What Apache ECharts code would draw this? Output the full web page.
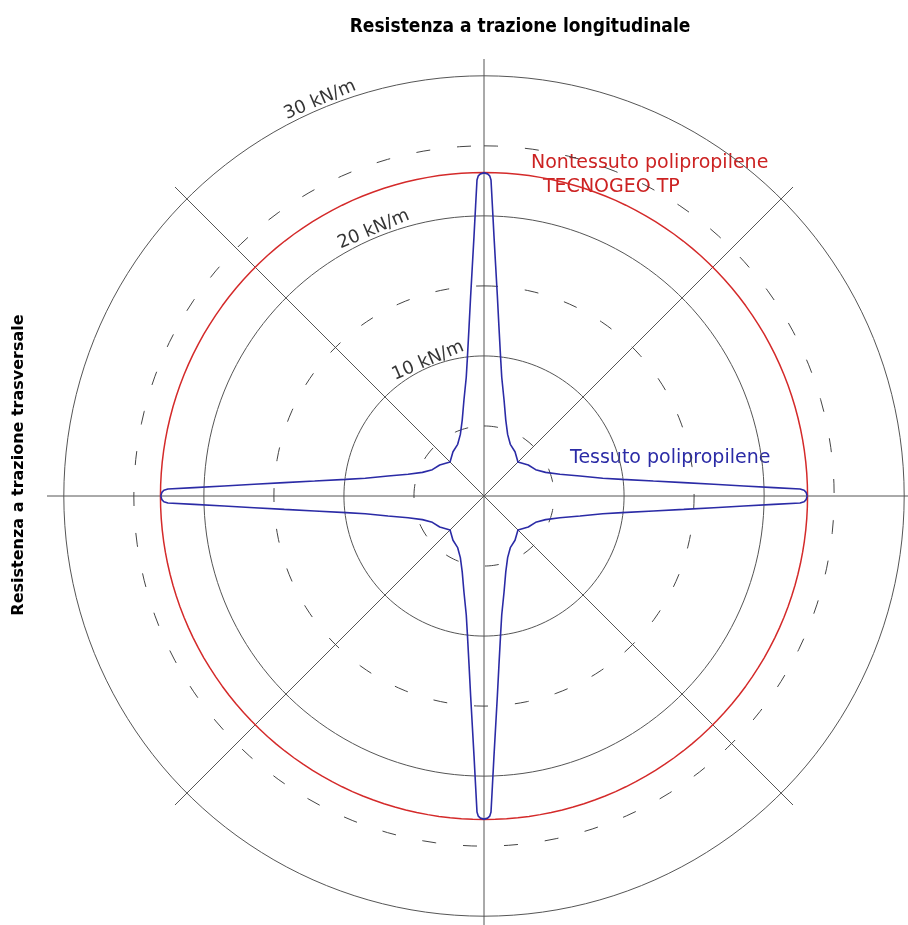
<!DOCTYPE html>
<html><head><meta charset="utf-8">
<script src="https://cdn.jsdelivr.net/npm/echarts@6/dist/echarts.min.js"></script>
<style>html,body{margin:0;padding:0;background:#fff}#chart{width:908px;height:925px}</style>
</head><body><div id="chart"></div>
<script>
// ---- data (kN/m) ----
const titleTop = 'Resistenza a trazione longitudinale';
const titleSide = 'Resistenza a trazione trasversale';
const armAngles = [0, 90, 180, 270]; // arm directions, degrees clockwise from top
// Tessuto polipropilene: half-arm profile, offset from arm axis (deg) -> strength (kN/m)
const profileOffset = [0, 0.64, 1.02, 1.27, 1.66, 2.20, 2.91, 3.83, 5.04, 6.86, 8.5, 11.8, 16, 21, 27, 35, 45];
const profileValue  = [23.07, 23.0, 22.86, 22.57, 20.71, 18.57, 16.43, 14.29, 12.14, 9.93, 8.57, 7.0, 5.64, 4.71, 4.14, 3.86, 3.43];
const nonwovenValue = 23.1; // Nontessuto polipropilene TECNOGEO TP
const solidRings = [10, 20, 30];
const dashedRings = [5, 15, 25];
const ringLabels = ['10 kN/m', '20 kN/m', '30 kN/m'];
const ringLabelRadius = [10.45, 20.6, 30.6];
const angleLabel = '45°';

// ---- build ----
const ringAngles = [];
for (let a = 0; a <= 360; a += 2) ringAngles.push(a);
function ring(v) { return ringAngles.map(a => [v, a]); }

const wovenData = [];
armAngles.forEach(A => {
  for (let i = profileOffset.length - 1; i >= 0; i--) wovenData.push([profileValue[i], A - profileOffset[i]]);
  for (let i = 1; i < profileOffset.length; i++) wovenData.push([profileValue[i], A + profileOffset[i]]);
});
wovenData.push(wovenData[0]);

const series = [];
solidRings.forEach(v => series.push({
  type: 'line', coordinateSystem: 'polar', data: ring(v), symbol: 'none', silent: true,
  lineStyle: { color: '#555', width: 1 }
}));
dashedRings.forEach(v => series.push({
  type: 'line', coordinateSystem: 'polar', data: ring(v), symbol: 'none', silent: true,
  lineStyle: { color: '#444', width: 1, type: [14, 27] }
}));
series.push({
  type: 'line', coordinateSystem: 'polar', data: ring(nonwovenValue), symbol: 'none', silent: true,
  lineStyle: { color: '#d42a2a', width: 1.5 }
});
series.push({
  type: 'line', coordinateSystem: 'polar', data: wovenData, symbol: 'none', silent: true,
  lineStyle: { color: '#2b2ba6', width: 1.6 }
});
series.push({
  type: 'scatter', coordinateSystem: 'polar', symbolSize: 0, silent: true,
  data: ringLabels.map((t, i) => ({ value: [ringLabelRadius[i], 337.5], name: t })),
  label: { show: true, position: 'inside', formatter: p => p.name, rotate: 23,
    color: '#000', fontSize: 18, fontFamily: '"DejaVu Sans", sans-serif' }
});
series.push({
  type: 'scatter', coordinateSystem: 'polar', symbolSize: 0, silent: true,
  data: [{ value: [32.9, 315], name: angleLabel }],
  label: { show: true, position: 'inside', formatter: p => p.name, rotate: 45,
    color: '#000', fontSize: 16, fontWeight: 'bold', fontFamily: '"DejaVu Sans", sans-serif' }
});

const chart = echarts.init(document.getElementById('chart'), null, { renderer: 'canvas' });
chart.setOption({
  animation: false,
  backgroundColor: '#fff',
  polar: { center: [484, 496], radius: 437 },
  angleAxis: {
    type: 'value', min: 0, max: 360, interval: 45, startAngle: 90, clockwise: true,
    axisLine: { show: false }, axisTick: { show: false }, axisLabel: { show: false },
    splitLine: { show: true, lineStyle: { color: '#555', width: 1 } }
  },
  radiusAxis: {
    type: 'value', min: 0, max: 31.2,
    axisLine: { show: false }, axisTick: { show: false }, axisLabel: { show: false },
    splitLine: { show: false }
  },
  graphic: [
    { type: 'text', x: 520, y: 27, style: { text: titleTop, font: 'bold 19px "DejaVu Sans Condensed", sans-serif', fill: '#000', textAlign: 'center', textVerticalAlign: 'middle' } },
    { type: 'text', x: 19, y: 465, rotation: Math.PI / 2, style: { text: titleSide, font: 'bold 16px "DejaVu Sans", sans-serif', fill: '#000', textAlign: 'center', textVerticalAlign: 'middle' } },
    { type: 'text', x: 531, y: 163, style: { text: 'Nontessuto polipropilene', font: '19px "DejaVu Sans", sans-serif', fill: '#cc2222', textAlign: 'left', textVerticalAlign: 'middle' } },
    { type: 'text', x: 543, y: 187, style: { text: 'TECNOGEO TP', font: '19px "DejaVu Sans", sans-serif', fill: '#cc2222', textAlign: 'left', textVerticalAlign: 'middle' } },
    { type: 'text', x: 570, y: 458, style: { text: 'Tessuto polipropilene', font: '19px "DejaVu Sans", sans-serif', fill: '#2b2ba6', textAlign: 'left', textVerticalAlign: 'middle' } }
  ],
  series: series
});
</script>
</body></html>
